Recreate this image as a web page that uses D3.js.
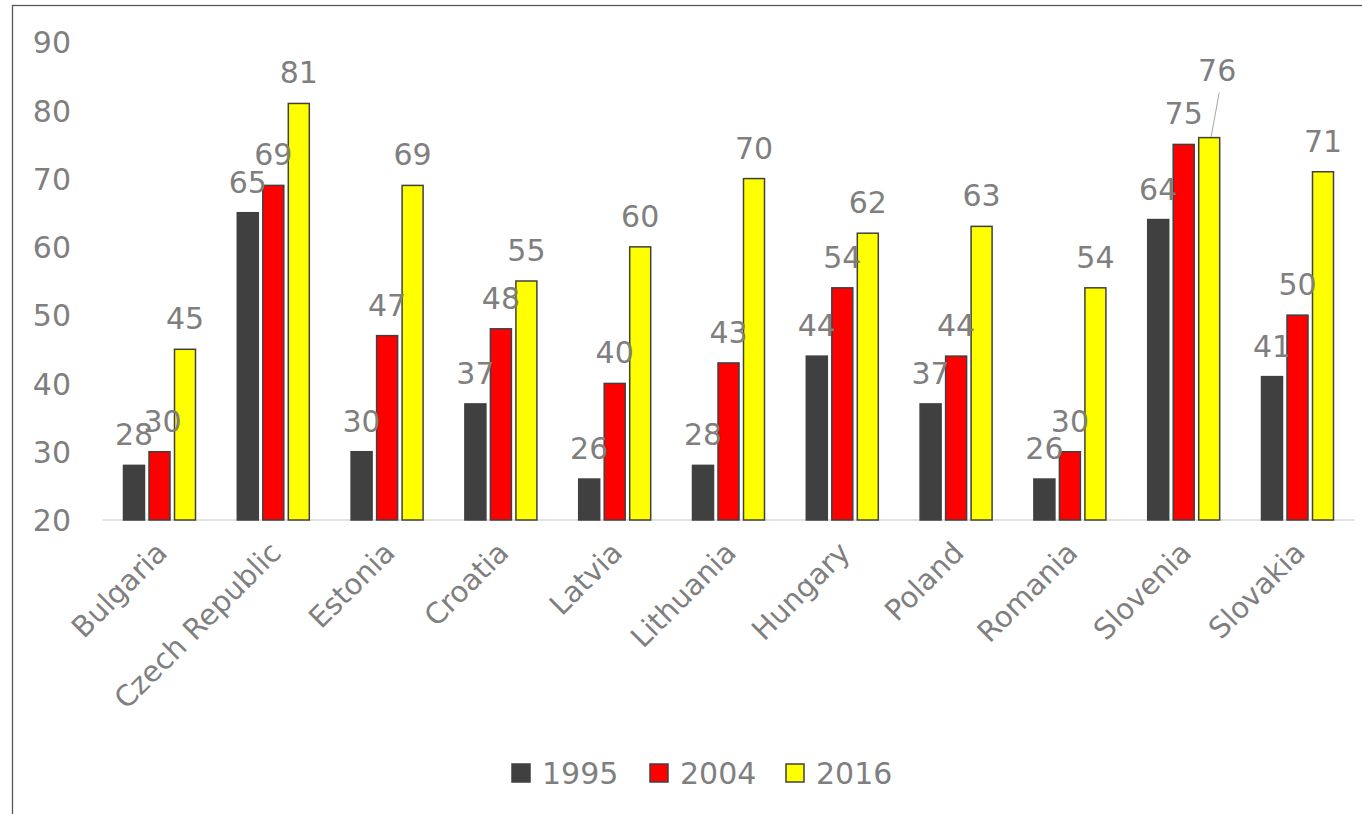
<!DOCTYPE html>
<html>
<head>
<meta charset="utf-8">
<script src="https://cdn.jsdelivr.net/npm/d3@7/dist/d3.min.js"></script>
<style>
  html, body { margin: 0; padding: 0; background: #ffffff; }
  svg { display: block; }
  text { font-family: "DejaVu Sans", sans-serif; fill: #7f7f7f; }
</style>
</head>
<body>
<svg id="chart" width="1362" height="814"></svg>
<script>
const categories = ["Bulgaria", "Czech Republic", "Estonia", "Croatia", "Latvia", "Lithuania", "Hungary", "Poland", "Romania", "Slovenia", "Slovakia"];
const seriesNames = ["1995", "2004", "2016"];
const values1995 = [28, 65, 30, 37, 26, 28, 44, 37, 26, 64, 41];
const values2004 = [30, 69, 47, 48, 40, 43, 54, 44, 30, 75, 50];
const values2016 = [45, 81, 69, 55, 60, 70, 62, 63, 54, 76, 71];
const yTicks = [20, 30, 40, 50, 60, 70, 80, 90];

const seriesValues = [values1995, values2004, values2016];
const colors = ["#404040", "#ff0000", "#ffff00"];
const strokeColor = "#404040";

const svg = d3.select("#chart");
const W = 1362, H = 814;

// outer border
svg.append("rect").attr("x", 12.5).attr("y", 5.5).attr("width", W + 20).attr("height", H + 20)
  .attr("fill", "none").attr("stroke", "#595959").attr("stroke-width", 1.3);

const x = d3.scaleBand().domain(categories).range([102.6, 1354.4]).padding(0);
const y = d3.scaleLinear().domain([20, 90]).range([520, 42]);
const barW = 21, barStep = 25.5;

// y tick labels
const yAxis = d3.axisLeft(y).tickValues(yTicks).tickSize(0).tickPadding(0);
const gy = svg.append("g").attr("transform", "translate(71,0)").call(yAxis);
gy.select(".domain").remove();
gy.selectAll("text").style("font-family", "DejaVu Sans, sans-serif").style("font-size", "30px")
  .attr("fill", "#7f7f7f").attr("dy", "0.36em");

// baseline
svg.append("line").attr("x1", x.range()[0]).attr("x2", x.range()[1])
  .attr("y1", y(20)).attr("y2", y(20)).attr("stroke", "#d9d9d9").attr("stroke-width", 1.5);

// bars
seriesValues.forEach((vals, si) => {
  const g = svg.append("g");
  g.selectAll("rect").data(vals).join("rect")
    .attr("x", (d, i) => x(categories[i]) + x.bandwidth() / 2 + (si - 1) * barStep - barW / 2)
    .attr("y", d => y(d))
    .attr("width", barW)
    .attr("height", d => y(20) - y(d))
    .attr("fill", colors[si])
    .attr("stroke", strokeColor)
    .attr("stroke-width", 1.5);
});

// data labels
const labelShift = { "9-2": [8, -37], "0-1": [3, 0] }; // Slovenia 2016 label moved with leader line
seriesValues.forEach((vals, si) => {
  const g = svg.append("g");
  vals.forEach((d, i) => {
    const cx = x(categories[i]) + x.bandwidth() / 2 + (si - 1) * barStep;
    const sh = labelShift[i + "-" + si] || [0, 0];
    const ty = y(d) - 20 + sh[1];
    g.append("text").attr("x", cx + sh[0]).attr("y", ty)
      .attr("text-anchor", "middle").style("font-size", "30px").text(d);
    if (sh[1] !== 0) {
      svg.append("line").attr("x1", cx + sh[0] + 2).attr("y1", ty + 12)
        .attr("x2", cx + 2).attr("y2", y(d) - 1)
        .attr("stroke", "#a6a6a6").attr("stroke-width", 1);
    }
  });
});

// x labels
const gx = svg.append("g");
categories.forEach(c => {
  const cx = x(c) + x.bandwidth() / 2;
  gx.append("text")
    .attr("transform", `translate(${cx - 5},${540}) rotate(-45)`)
    .attr("text-anchor", "end")
    .attr("dy", "0.7em")
    .style("font-size", "29px")
    .text(c);
});

// legend
const legendX = [512, 650, 786];
seriesNames.forEach((n, si) => {
  svg.append("rect").attr("x", legendX[si]).attr("y", 764).attr("width", 18).attr("height", 18)
    .attr("fill", colors[si]).attr("stroke", strokeColor).attr("stroke-width", 1.5);
  svg.append("text").attr("x", legendX[si] + 30).attr("y", 784)
    .style("font-size", "30px").text(n);
});
</script>
</body>
</html>
